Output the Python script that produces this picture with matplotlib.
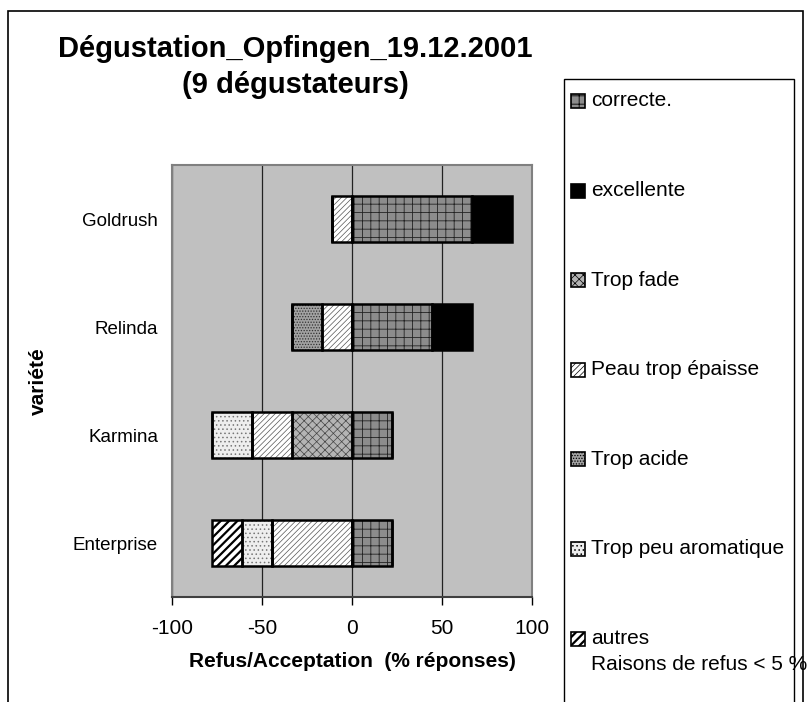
import matplotlib as mpl
import matplotlib.pyplot as plt
from matplotlib.patches import Rectangle

plt.rcParams['font.family'] = ['Liberation Sans', 'DejaVu Sans']
plt.rcParams['hatch.linewidth'] = 0.6

# bottom to top, as drawn
varietes = ['Enterprise', 'Karmina', 'Relinda', 'Goldrush']

# acceptation (positive side)
correcte = [22.2, 22.2, 44.4, 66.7]
excellente = [0.0, 0.0, 22.2, 22.2]
# raisons de refus (negative side), stacked outward from 0
trop_fade = [0.0, 33.3, 0.0, 0.0]
peau_epaisse = [44.4, 22.2, 16.7, 11.1]
trop_acide = [0.0, 0.0, 16.7, 0.0]
peu_aromatique = [16.7, 22.2, 0.0, 0.0]
autres = [16.7, 0.0, 0.0, 0.0]

labels = ['correcte.', 'excellente', 'Trop fade', 'Peau trop épaisse',
          'Trop acide', 'Trop peu aromatique',
          'autres\nRaisons de refus < 5 %']
x_ticks = [-100, -50, 0, 50, 100]

W, H = 811, 702


def fx(px):
    return px / W


def fy(py):
    return 1 - py / H


# (face colour, hatch, hatch colour, hatch width) per series
styles = [
    ('#8c8c8c', '++', '#222222', 0.6),
    ('black', None, 'black', 0.6),
    ('#b4b4b4', 'xxxx', '#444444', 0.5),
    ('white', '//////', '#555555', 0.5),
    ('#a2a2a2', '......', '#333333', 0.6),
    ('#eeeeee', '....', '#777777', 0.6),
    ('white', '////', 'black', 1.6),
]


def main():
    fig = plt.figure(figsize=(W / 100, H / 100), dpi=100)
    ax = fig.add_axes([fx(172), fy(597), fx(532) - fx(172), fy(165) - fy(597)])
    ax.set_facecolor('#c0c0c0')

    pos_series = [correcte, excellente]
    neg_series = [trop_fade, peau_epaisse, trop_acide, peu_aromatique, autres]
    y = list(range(len(varietes)))
    h = 0.42

    def stack(series, first_style, sign):
        left = [0.0] * len(varietes)
        for i, vals in enumerate(series):
            fc, hatch, hc, hw = styles[first_style + i]
            widths = [sign * v for v in vals]
            with mpl.rc_context({'hatch.linewidth': hw}):
                ax.barh(y, widths, height=h, left=left, color=fc,
                        hatch=hatch, edgecolor=hc, linewidth=0, zorder=3)
            ax.barh(y, widths, height=h, left=left, fill=False,
                    edgecolor='black', linewidth=1.8, zorder=4)
            left = [a + b for a, b in zip(left, widths)]

    stack(pos_series, 0, 1)
    stack(neg_series, 2, -1)

    ax.set_xlim(-100, 100)
    ax.set_ylim(-0.5, len(varietes) - 0.5)
    ax.set_xticks(x_ticks)
    ax.set_xticklabels([str(t) for t in x_ticks])
    ax.set_yticks(y)
    ax.set_yticklabels(varietes)
    ax.tick_params(axis='x', direction='out', length=6, width=1,
                   labelsize=15, pad=10)
    ax.tick_params(axis='y', length=0, labelsize=13.5, pad=10)
    ax.grid(axis='x', color='#222222', linewidth=0.9, zorder=1)
    ax.set_axisbelow(True)
    for side in ['left', 'right', 'top']:
        ax.spines[side].set_color('#808080')
        ax.spines[side].set_linewidth(1.5)
    ax.spines['bottom'].set_color('#404040')
    ax.spines['bottom'].set_linewidth(1.5)

    ax.set_xlabel('Refus/Acceptation  (% réponses)', fontsize=15,
                  fontweight='bold', labelpad=10)
    ax.set_ylabel('variété', fontsize=15, fontweight='bold', labelpad=18)

    fig.text(fx(295), fy(57), 'Dégustation_Opfingen_19.12.2001',
             fontsize=21, fontweight='bold', ha='center', va='baseline')
    fig.text(fx(295), fy(93), '(9 dégustateurs)',
             fontsize=21, fontweight='bold', ha='center', va='baseline')

    # outer chart border (bottom edge falls outside the picture)
    fig.add_artist(Rectangle((fx(8), -0.1), fx(803) - fx(8), fy(11) + 0.1,
                             transform=fig.transFigure, fill=False,
                             edgecolor='black', linewidth=1.2))
    # legend box
    fig.add_artist(Rectangle((fx(564), -0.1), fx(794) - fx(564),
                             fy(79) + 0.1, transform=fig.transFigure,
                             fill=False, edgecolor='black', linewidth=1.0))
    step = 89.6
    for k, lab in enumerate(labels):
        cy = 101 + step * k
        fc, hatch, hc, hw = styles[k]
        with mpl.rc_context({'hatch.linewidth': hw}):
            fig.add_artist(Rectangle((fx(571), fy(cy + 7)), fx(585) - fx(571),
                                     fy(cy - 7) - fy(cy + 7),
                                     transform=fig.transFigure, facecolor=fc,
                                     hatch=hatch, edgecolor='black',
                                     linewidth=1.2))
        lines = lab.split('\n')
        for n, line in enumerate(lines):
            fig.text(fx(591), fy(cy + 26 * n), line, fontsize=15,
                     ha='left', va='center')

    fig.savefig('out.png', dpi=100)


if __name__ == '__main__':
    main()
